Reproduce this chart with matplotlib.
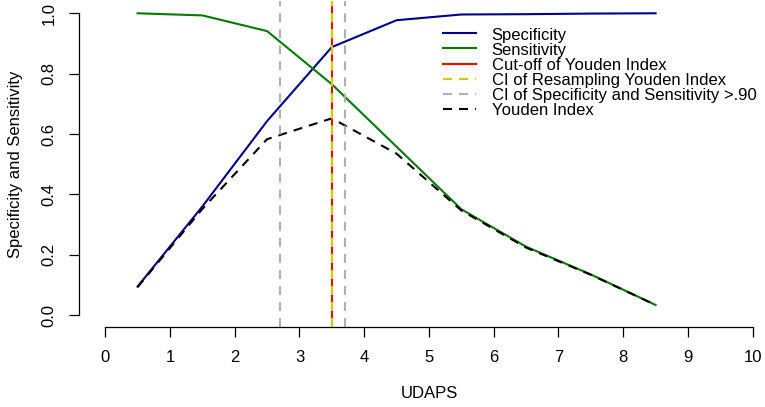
import matplotlib
matplotlib.use("Agg")
import matplotlib.pyplot as plt
from matplotlib.lines import Line2D

plt.rcParams['font.family'] = ['Liberation Sans', 'DejaVu Sans']
plt.rcParams['font.size'] = 12

# values
udaps = [0.5, 1.5, 2.5, 3.5, 4.5, 5.5, 6.5, 7.5, 8.5]
specificity = [0.095, 0.36, 0.643, 0.888, 0.977, 0.996, 0.997, 0.999, 1.0]
sensitivity = [1.0, 0.993, 0.941, 0.765, 0.558, 0.351, 0.227, 0.135, 0.034]
youden = [0.093, 0.352, 0.583, 0.652, 0.535, 0.347, 0.224, 0.134, 0.034]
cutoff = 3.5
ci_resampling = [3.5, 3.5]
ci_spec_sens = [2.7, 3.7]

xticks = list(range(0, 11))
yticks = [0.0, 0.2, 0.4, 0.6, 0.8, 1.0]

W, H = 765, 407
c_blue = '#00008B'
c_green = '#007A00'
c_red = '#FF0000'
c_yellow = '#CDCD00'
c_gray = '#B0B0B0'
dash = (4.3, 3.4)
lw = 1.5

fig = plt.figure(figsize=(W / 100, H / 100), dpi=100)
# plot region in pixels: left 79.3, right 778.6 (cropped), top 1.2, bottom 327.3
ax = fig.add_axes([79.3 / W, 1 - 327.3 / H, 699.3 / W, 326.1 / H])
ax.set_xlim(-0.4, 10.4)
ax.set_ylim(-0.04, 1.04)

ax.plot(udaps, specificity, color=c_blue, lw=lw)
ax.plot(udaps, sensitivity, color=c_green, lw=lw)
ax.plot(udaps, youden, color='black', lw=lw, dashes=dash)
ax.axvline(cutoff, color=c_red, lw=lw)
for v in ci_resampling:
    ax.axvline(v, color=c_yellow, lw=lw, dashes=dash)
for v in ci_spec_sens:
    ax.axvline(v, color=c_gray, lw=lw, dashes=dash)

# R style detached axes
for s in ['top', 'right']:
    ax.spines[s].set_visible(False)
ax.spines['left'].set_bounds(0, 1)
ax.spines['bottom'].set_bounds(0, 10)
for s in ['left', 'bottom']:
    ax.spines[s].set_linewidth(0.9)
ax.set_xticks(xticks)
ax.set_xticklabels([str(t) for t in xticks])
ax.set_yticks(yticks)
ax.set_yticklabels([f"{t:.1f}" for t in yticks])
ax.tick_params(axis='both', length=7.5, width=0.9, labelsize=12)
ax.tick_params(axis='x', pad=9)
ax.tick_params(axis='y', pad=9, labelrotation=90)
for lab in ax.get_yticklabels():
    lab.set_va('center')

ax.set_xlabel('UDAPS', fontsize=12, va='center')
ax.xaxis.set_label_coords(0.5, (327.3 - 394) / 326.1)
ax.set_ylabel('Specificity and Sensitivity', fontsize=12, va='center')
ax.yaxis.set_label_coords((15.5 - 79.3) / 699.3, 0.5)

# legend drawn by hand (R style, no box)
leg_labels = ['Specificity', 'Sensitivity', 'Cut-off of Youden Index',
              'CI of Resampling Youden Index',
              'CI of Specificity and Sensitivity >.90', 'Youden Index']
leg_colors = [c_blue, c_green, c_red, c_yellow, c_gray, 'black']
leg_dashed = [False, False, False, True, True, True]
for i, (lab, col, dsh) in enumerate(zip(leg_labels, leg_colors, leg_dashed)):
    y = 33.3 + 15.1 * i
    kw = dict(dashes=dash) if dsh else {}
    fig.add_artist(Line2D([443.3 / W, 476 / W], [1 - y / H, 1 - y / H],
                          color=col, lw=lw, transform=fig.transFigure, **kw))
    fig.text(491.7 / W, 1 - (y + 6.3) / H, lab, fontsize=12,
             ha='left', va='baseline')

fig.savefig('out.png', dpi=100)
